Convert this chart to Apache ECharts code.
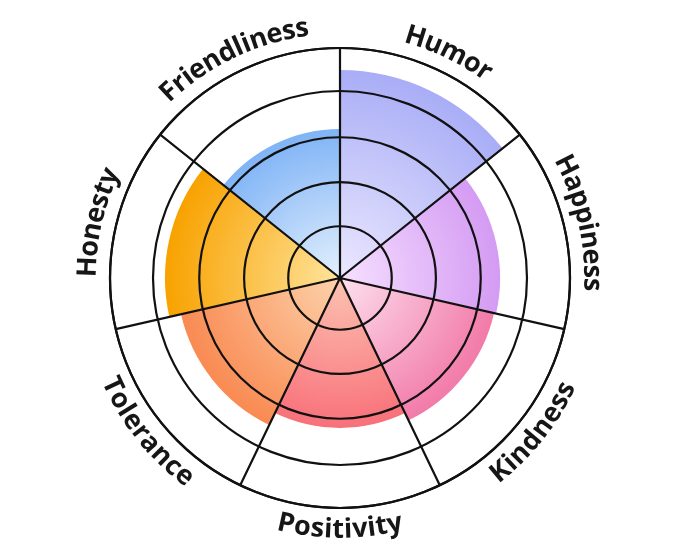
<!DOCTYPE html>
<html>
<head>
<meta charset="utf-8">
<script src="https://cdn.jsdelivr.net/npm/echarts@6/dist/echarts.min.js"></script>
<style>
html,body{margin:0;padding:0;background:#fff;}
#chart{width:680px;height:557px;}
</style>
</head>
<body>
<div id="chart"></div>
<script>
// ---- data ----
const categories = ['Humor', 'Happiness', 'Kindness', 'Positivity', 'Tolerance', 'Honesty', 'Friendliness'];
const values = [9.04, 6.96, 6.87, 6.52, 7.09, 7.61, 6.48];
const ringValues = [2.25, 4.17, 6.12, 8.13, 10];
const radiusMax = 10;
const innerColors = ['#ebe8ff', '#f6e0ff', '#fde0ee', '#fdc3b2', '#fdd2ab', '#ffe49c', '#e4f0fd'];
const outerColors = ['#a9adf6', '#d49bf3', '#f27aa9', '#f8717a', '#f98a52', '#f8a200', '#80b4f6'];

// ---- layout / style ----
const CX = 340, CY = 278, R = 230;
const LINE = '#111111';
const FONT = 'bold 27px "Open Sans"';
const LABEL_OFFSET = 22;

const chart = echarts.init(document.getElementById('chart'));

const measureCtx = document.createElement('canvas').getContext('2d');
measureCtx.font = FONT;

function renderLabel(params, api) {
  const idx = api.value(1);
  const c = api.coord([0, idx]);
  const o = api.coord([radiusMax, idx]);
  const dx = o[0] - c[0], dy = o[1] - c[1];
  const r = Math.sqrt(dx * dx + dy * dy) + LABEL_OFFSET;
  const theta0 = Math.atan2(-dy, dx);
  const text = categories[idx];
  const widths = text.split('').map(ch => measureCtx.measureText(ch).width);
  const total = widths.reduce((a, b) => a + b, 0);
  const span = total / r;
  const top = Math.sin(theta0) >= 0;
  const children = [];
  let cum = 0;
  text.split('').forEach((ch, k) => {
    const mid = (cum + widths[k] / 2) / r;
    const th = top ? theta0 + span / 2 - mid : theta0 - span / 2 + mid;
    cum += widths[k];
    children.push({
      type: 'text',
      x: c[0] + r * Math.cos(th),
      y: c[1] - r * Math.sin(th),
      rotation: top ? th - Math.PI / 2 : th + Math.PI / 2,
      style: {
        text: ch,
        font: FONT,
        fill: '#161616',
        align: 'center',
        verticalAlign: 'middle'
      }
    });
  });
  return { type: 'group', children: children };
}

const barData = values.map((v, i) => ({
  value: v,
  itemStyle: {
    color: new echarts.graphic.RadialGradient(CX, CY, v / radiusMax * R, [
      { offset: 0, color: innerColors[i] },
      { offset: 1, color: outerColors[i] }
    ], true)
  }
}));

chart.setOption({
  backgroundColor: '#ffffff',
  animation: false,
  polar: { center: [CX, CY], radius: R },
  angleAxis: {
    type: 'category',
    data: categories,
    startAngle: 90,
    clockwise: true,
    boundaryGap: true,
    z: 5,
    axisLine: { show: true, lineStyle: { color: LINE, width: 2.2 } },
    axisTick: { show: false },
    axisLabel: { show: false },
    splitLine: { show: true, lineStyle: { color: LINE, width: 2.2 } }
  },
  radiusAxis: {
    type: 'value',
    min: 0,
    max: radiusMax,
    z: 5,
    axisLine: { show: false },
    axisTick: { show: false, customValues: ringValues },
    axisLabel: { show: false },
    splitLine: { show: true, lineStyle: { color: LINE, width: 2.2 } }
  },
  series: [
    {
      type: 'bar',
      coordinateSystem: 'polar',
      data: barData,
      barCategoryGap: '0%',
      silent: true
    },
    {
      type: 'custom',
      coordinateSystem: 'polar',
      data: categories.map((c, i) => [0, i]),
      renderItem: renderLabel,
      silent: true,
      z: 10
    }
  ]
});
</script>
</body>
</html>
